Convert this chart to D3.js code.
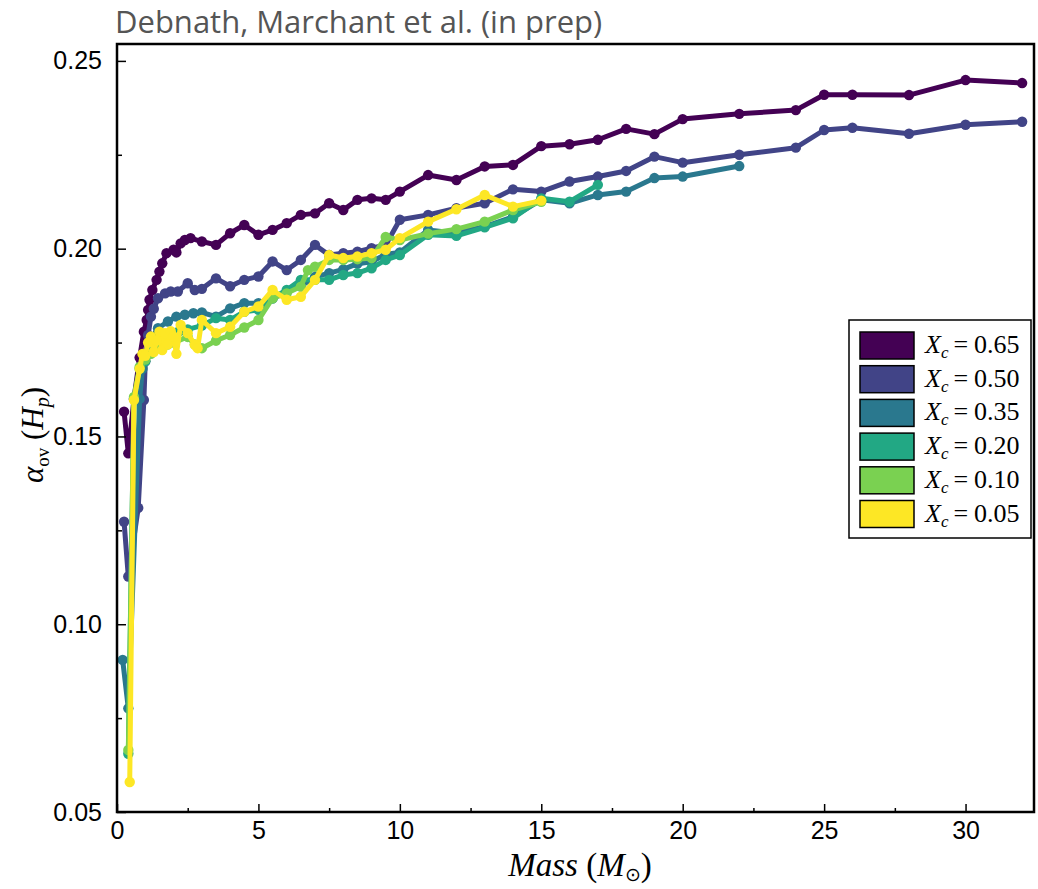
<!DOCTYPE html>
<html>
<head>
<meta charset="utf-8">
<script src="https://cdn.jsdelivr.net/npm/d3@7"></script>
<style>
  body { margin: 0; background: #fff; }
  svg { display: block; }
</style>
</head>
<body>
<div id="chart"></div>
<script>
// core hydrogen fractions, one series each
const xcLabels = ["0.65", "0.50", "0.35", "0.20", "0.10", "0.05"];

const mass065 = [0.25,0.4,0.6,0.8,0.95,1.05,1.1,1.15,1.25,1.4,1.5,1.6,1.75,2.0,2.1,2.25,2.4,2.6,3.0,3.5,4,4.5,5,5.5,6,6.5,7,7.5,8,8.5,9,9.5,10,11,12,13,14,15,16,17,18,19,20,22,24,25,26,28,30,32];
const alpha065 = [0.1566,0.1455,0.160,0.171,0.1779,0.181,0.1837,0.1864,0.189,0.1917,0.1939,0.1961,0.1988,0.1997,0.199,0.2014,0.2023,0.2028,0.2019,0.201,0.2041,0.2063,0.2037,0.205,0.2068,0.209,0.2094,0.2121,0.2103,0.213,0.2134,0.213,0.2152,0.2196,0.2183,0.2219,0.2223,0.2273,0.2278,0.229,0.2319,0.2305,0.2345,0.2359,0.2369,0.241,0.241,0.2409,0.2449,0.2441];

const mass050 = [0.25,0.4,0.75,0.95,1.0,1.1,1.2,1.3,1.45,1.7,1.9,2.15,2.5,2.75,3,3.5,4,4.5,5,5.5,6,6.5,7,7.5,8,8.5,9,9.5,10,11,12,13,14,15,16,17,18,19,20,22,24,25,26,28,30,32];
const alpha050 = [0.1273,0.1127,0.131,0.1597,0.170,0.177,0.1819,0.184,0.1868,0.1881,0.1886,0.1886,0.1908,0.189,0.1893,0.1921,0.19,0.1917,0.1926,0.1966,0.1943,0.197,0.201,0.1983,0.1988,0.1992,0.2001,0.201,0.2077,0.209,0.2108,0.2121,0.2158,0.2152,0.2179,0.2192,0.2207,0.2245,0.2229,0.225,0.2269,0.2316,0.2322,0.2306,0.233,0.2338];

const mass035 = [0.2,0.4,0.8,0.9,1.0,1.2,1.45,1.8,2.1,2.4,2.7,3,3.5,4,4.5,5,5.5,6,6.5,7,7.5,8,8.5,9,9.5,10,11,12,13,14,15,16,17,18,19,20,22];
const alpha035 = [0.0905,0.0776,0.160,0.168,0.172,0.176,0.1788,0.1806,0.1819,0.1824,0.1828,0.1830,0.1819,0.1841,0.1855,0.1855,0.1868,0.1885,0.190,0.1925,0.1935,0.1945,0.196,0.1965,0.1985,0.199,0.205,0.2041,0.2059,0.2085,0.213,0.2121,0.2143,0.2152,0.2188,0.2192,0.222];

const mass020 = [0.4,0.6,0.8,1.0,1.2,1.5,1.8,2.0,2.2,2.5,3,3.5,4,4.5,5,5.5,6,6.5,7,7.5,8,8.5,9,9.5,10,11,12,13,14,15,16,17];
const alpha020 = [0.0655,0.160,0.168,0.170,0.1725,0.1745,0.176,0.1765,0.178,0.1785,0.1795,0.1815,0.181,0.1832,0.1837,0.1868,0.189,0.1917,0.1917,0.1917,0.193,0.1935,0.1948,0.197,0.1983,0.2037,0.2034,0.2057,0.2081,0.2134,0.2125,0.217];

const mass010 = [0.4,0.6,0.8,1.0,1.2,1.5,1.8,2.0,2.5,2.75,3,3.5,4,4.5,5,5.5,6,6.5,6.75,7,7.5,8,8.5,9,9.5,10,11,12,13,14,15];
const alpha010 = [0.0665,0.1605,0.1685,0.1705,0.172,0.1735,0.1745,0.175,0.1765,0.1745,0.1735,0.1755,0.177,0.179,0.181,0.1868,0.1881,0.1899,0.1943,0.1952,0.197,0.197,0.1972,0.1975,0.2031,0.2023,0.2040,0.2052,0.2072,0.2103,0.2125];

const mass005 = [0.45,0.6,0.8,0.9,1.0,1.1,1.2,1.3,1.4,1.5,1.6,1.7,1.8,1.9,2.0,2.1,2.25,2.5,2.75,2.85,3.0,3.5,4,4.5,5,5.5,6,6.5,7,7.5,8,8.5,9,9.5,10,11,12,13,14,15];
const alpha005 = [0.058,0.1597,0.168,0.172,0.1715,0.175,0.1766,0.1725,0.1755,0.1779,0.173,0.1775,0.1745,0.178,0.1766,0.172,0.1797,0.1775,0.1744,0.1735,0.181,0.1775,0.1792,0.1832,0.1846,0.189,0.1864,0.1872,0.1917,0.1983,0.1975,0.1979,0.1988,0.1997,0.2028,0.2072,0.2105,0.2143,0.2112,0.2128];

const xTicks = [0, 5, 10, 15, 20, 25, 30];
const xMinorTicks = [2.5, 7.5, 12.5, 17.5, 22.5, 27.5, 32.5];
const yTicks = [0.05, 0.10, 0.15, 0.20, 0.25];
const yMinorTicks = [0.075, 0.125, 0.175, 0.225];

const colors = ["#440154", "#414487", "#2a788e", "#22a884", "#7ad151", "#fde725"];

const series = [
  [mass065, alpha065], [mass050, alpha050], [mass035, alpha035],
  [mass020, alpha020], [mass010, alpha010], [mass005, alpha005]
].map(([m, a], i) => ({
  label: xcLabels[i],
  color: colors[i],
  points: m.map((v, j) => ({ m: v, a: a[j] }))
}));

const width = 1038;
const height = 889;
const plotLeft = 117, plotRight = 1034, plotTop = 44, plotBottom = 812;

const x = d3.scaleLinear().domain([0, 32.42]).range([plotLeft, plotRight]);
const y = d3.scaleLinear().domain([0.05, 0.2545]).range([plotBottom, plotTop]);

const svg = d3.select("#chart").append("svg")
  .attr("width", width)
  .attr("height", height);

// title
svg.append("text")
  .attr("x", 115)
  .attr("y", 33)
  .attr("font-family", "Open Sans")
  .attr("font-size", 31)
  .attr("fill", "#555")
  .text("Debnath, Marchant et al. (in prep)");

svg.append("clipPath").attr("id", "plot-clip")
  .append("rect")
  .attr("x", plotLeft).attr("y", plotTop)
  .attr("width", plotRight - plotLeft).attr("height", plotBottom - plotTop + 10);

// lines + markers
const line = d3.line().x(d => x(d.m)).y(d => y(d.a));
const plot = svg.append("g").attr("clip-path", "url(#plot-clip)");

series.forEach(s => {
  const g = plot.append("g");
  g.append("path")
    .datum(s.points)
    .attr("d", line)
    .attr("fill", "none")
    .attr("stroke", s.color)
    .attr("stroke-width", 5)
    .attr("stroke-linejoin", "round");
  g.selectAll("circle")
    .data(s.points)
    .enter()
    .append("circle")
    .attr("cx", d => x(d.m))
    .attr("cy", d => y(d.a))
    .attr("r", 5.2)
    .attr("fill", s.color);
});

// axes
const xAxis = svg.append("g")
  .attr("transform", `translate(0,${plotBottom})`)
  .call(d3.axisBottom(x).tickValues(xTicks).tickSize(-8).tickPadding(9).tickFormat(d3.format("d")));
xAxis.select(".domain").remove();
xAxis.selectAll("text").attr("font-family", "Liberation Sans").attr("font-size", 25).attr("fill", "#000");
xAxis.selectAll("line").attr("stroke", "#000").attr("stroke-width", 1.5);

const xMinor = svg.append("g")
  .attr("transform", `translate(0,${plotBottom})`)
  .call(d3.axisBottom(x).tickValues(xMinorTicks.filter(t => t < 32.42)).tickSize(-4).tickFormat(""));
xMinor.select(".domain").remove();
xMinor.selectAll("line").attr("stroke", "#000").attr("stroke-width", 1.5);

const yAxis = svg.append("g")
  .attr("transform", `translate(${plotLeft},0)`)
  .call(d3.axisLeft(y).tickValues(yTicks).tickSize(-9).tickPadding(15).tickFormat(d3.format(".2f")));
yAxis.select(".domain").remove();
yAxis.selectAll("text").attr("font-family", "Liberation Sans").attr("font-size", 25).attr("fill", "#000");
yAxis.selectAll("line").attr("stroke", "#000").attr("stroke-width", 1.5);

const yMinor = svg.append("g")
  .attr("transform", `translate(${plotLeft},0)`)
  .call(d3.axisLeft(y).tickValues(yMinorTicks).tickSize(-5).tickFormat(""));
yMinor.select(".domain").remove();
yMinor.selectAll("line").attr("stroke", "#000").attr("stroke-width", 1.5);

// frame
svg.append("rect")
  .attr("x", plotLeft).attr("y", plotTop)
  .attr("width", plotRight - plotLeft).attr("height", plotBottom - plotTop)
  .attr("fill", "none")
  .attr("stroke", "#000")
  .attr("stroke-width", 2.5);

// axis labels
const xLabel = svg.append("text")
  .attr("x", 580)
  .attr("y", 876)
  .attr("text-anchor", "middle")
  .attr("font-family", "Liberation Serif")
  .attr("font-size", 33)
  .attr("fill", "#000");
xLabel.append("tspan").attr("font-style", "italic").text("Mass");
xLabel.append("tspan").text(" (");
xLabel.append("tspan").attr("font-style", "italic").text("M");
xLabel.append("tspan").attr("font-size", 19).attr("dy", 5).text("⊙");
xLabel.append("tspan").attr("dy", -5).text(")");

const yLabel = svg.append("text")
  .attr("transform", "translate(43,435) rotate(-90)")
  .attr("text-anchor", "middle")
  .attr("font-family", "Liberation Serif")
  .attr("font-size", 31)
  .attr("fill", "#000");
yLabel.append("tspan").attr("font-style", "italic").text("α");
yLabel.append("tspan").attr("font-size", 19).attr("dy", 6).text("ov");
yLabel.append("tspan").attr("dy", -6).text(" (");
yLabel.append("tspan").attr("font-style", "italic").text("H");
yLabel.append("tspan").attr("font-style", "italic").attr("font-size", 20).attr("dy", 6).text("p");
yLabel.append("tspan").attr("dy", -6).text(")");

// legend
const legend = svg.append("g");
legend.append("rect")
  .attr("x", 849).attr("y", 320)
  .attr("width", 182).attr("height", 218)
  .attr("fill", "#fff")
  .attr("stroke", "#000")
  .attr("stroke-width", 1.5);

series.forEach((s, i) => {
  const yy = 332 + i * 33.7;
  legend.append("rect")
    .attr("x", 860).attr("y", yy)
    .attr("width", 54).attr("height", 27)
    .attr("fill", s.color)
    .attr("stroke", "#000")
    .attr("stroke-width", 1.5);
  const t = legend.append("text")
    .attr("x", 925)
    .attr("y", yy + 21)
    .attr("font-family", "Liberation Serif")
    .attr("font-size", 26)
    .attr("fill", "#000");
  t.append("tspan").attr("font-style", "italic").text("X");
  t.append("tspan").attr("font-style", "italic").attr("font-size", 17).attr("dy", 5).text("c");
  t.append("tspan").attr("dy", -5).attr("dx", 5).text("=");
  t.append("tspan").attr("dx", 6).text(s.label);
});
</script>
</body>
</html>
